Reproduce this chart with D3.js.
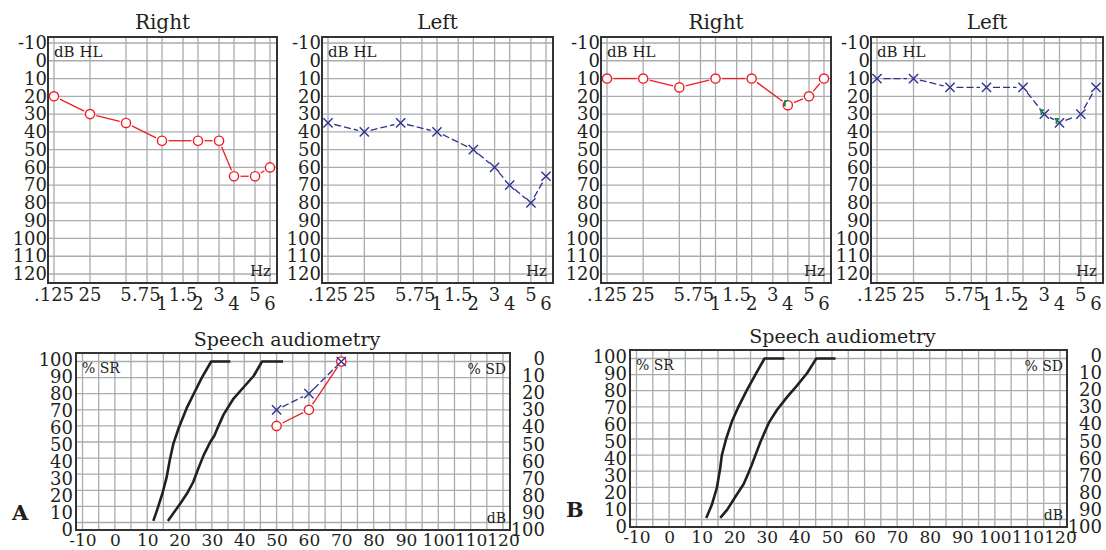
<!DOCTYPE html>
<html lang="en">
<head>
<meta charset="utf-8">
<title>Audiograms</title>
<script src="https://d3js.org/d3.v7.min.js"></script>
<style>
body { margin: 0; background: #fff; }
text { font-family: "DejaVu Serif", serif; fill: #231f20; }
.grid line { stroke: #a9abae; stroke-width: 1.3; }
.frame { fill: none; stroke: #333; stroke-width: 2; }
.ax text { font-size: 18px; }
.sax text { font-size: 18px; }
.xax text { font-size: 17px; }
</style>
</head>
<body>
<div id="chart"></div>
<script>
// audiogram axes
var freqs = [125, 250, 500, 750, 1000, 1500, 2000, 3000, 4000, 6000, 8000];
var freqLabels = [".125", "25", "5", ".75", "1", "1.5", "2", "3", "4", "5", "6"];
var freqLow = [false, false, false, false, true, false, true, false, true, false, true];
var dbTicks = [-10, 0, 10, 20, 30, 40, 50, 60, 70, 80, 90, 100, 110, 120];

// A: right ear (o) and left ear (x)
var freqsRA = [125, 250, 500, 1000, 2000, 3000, 4000, 6000, 8000];
var valuesRA = [20, 30, 35, 45, 45, 45, 65, 65, 60];
var freqsLA = [125, 250, 500, 1000, 2000, 3000, 4000, 6000, 8000];
var valuesLA = [35, 40, 35, 40, 50, 60, 70, 80, 65];
// B
var freqsRB = [125, 250, 500, 1000, 2000, 4000, 6000, 8000];
var valuesRB = [10, 10, 15, 10, 10, 25, 20, 10];
var freqsLB = [125, 250, 500, 1000, 2000, 3000, 4000, 6000, 8000];
var valuesLB = [10, 10, 15, 15, 15, 30, 35, 30, 15];
// green marks (masked)
var greenRB = [[4000, 25]];
var greenLB = [[3000, 30], [4000, 35]];

// speech audiometry
var speechTicksX = [-10, 0, 10, 20, 30, 40, 50, 60, 70, 80, 90, 100, 110, 120];
var speechGridX = [-10, -5, 0, 5, 10, 15, 20, 25, 30, 35, 40, 45, 50, 55, 60, 65, 70, 75, 80, 85, 90, 95, 100, 105, 110, 115, 120];
var pctTicks = [100, 90, 80, 70, 60, 50, 40, 30, 20, 10, 0];
var sdTicks = [0, 10, 20, 30, 40, 50, 60, 70, 80, 90, 100];

var curveA1Db = [11.9, 13.1, 14.7, 16.0, 17.0, 18.1, 19.8, 22.2, 24.4, 26.9, 29.8, 35.7];
var curveA1Pct = [1, 8, 18, 28, 39, 49, 59, 71, 80, 90, 100, 100];
var curveA2Db = [16.4, 18.2, 20.3, 22.3, 24.2, 25.7, 27.5, 29.5, 30.8, 31.6, 33.6, 36.7, 39.8, 42.9, 45.5, 52];
var curveA2Pct = [1, 6, 12, 18, 25, 33, 42, 50, 54, 58, 67, 77, 84, 91, 100, 100];
var curveB1Db = [11.4, 13.1, 14.7, 15.7, 16.2, 17.5, 19.3, 21.3, 23.8, 26.5, 29.3, 35.4];
var curveB1Pct = [1, 9, 20, 32, 40, 50, 61, 70, 80, 90, 100, 100];
var curveB2Db = [15.7, 17.8, 20.3, 22.9, 24.4, 25.4, 26.5, 28.0, 30.6, 33.1, 36.2, 39.2, 42.4, 45.2, 51.1];
var curveB2Pct = [1, 6, 14, 22, 29, 34, 40, 48, 60, 68, 76, 83, 91, 100, 100];

var speechDbA = [50, 60, 70];
var speechRightA = [60, 70, 100];
var speechLeftA = [70, 80, 100];

var RED = "#ed1c24", BLUE = "#2e3192", GREEN = "#0b8a3e";

var svg = d3.select("#chart").append("svg").attr("width", 1106).attr("height", 550);

var aTop = 37, aBottom = 283;

function markers(g, pts, kind) {
  if (kind === "o") {
    g.selectAll(null).data(pts).join("circle")
      .attr("cx", d => d[0]).attr("cy", d => d[1]).attr("r", 4.6)
      .attr("fill", "#fff").attr("stroke", RED).attr("stroke-width", 1.4);
  } else {
    g.selectAll(null).data(pts).join("path")
      .attr("d", d => "M" + (d[0] - 4.6) + "," + (d[1] - 4.6) + "L" + (d[0] + 4.6) + "," + (d[1] + 4.6) +
        "M" + (d[0] - 4.6) + "," + (d[1] + 4.6) + "L" + (d[0] + 4.6) + "," + (d[1] - 4.6))
      .attr("fill", "none").attr("stroke", BLUE).attr("stroke-width", 1.4);
  }
}

// segments between markers, trimmed so they stop short of the symbols
function links(g, pts, kind) {
  var segs = [];
  for (var i = 0; i < pts.length - 1; i++) {
    var a = pts[i], b = pts[i + 1];
    var dx = b[0] - a[0], dy = b[1] - a[1], len = Math.sqrt(dx * dx + dy * dy), gap = 6.5;
    if (len < 2 * gap) continue;
    segs.push([a[0] + dx / len * gap, a[1] + dy / len * gap, b[0] - dx / len * gap, b[1] - dy / len * gap]);
  }
  g.selectAll(null).data(segs).join("line")
    .attr("x1", d => d[0]).attr("y1", d => d[1]).attr("x2", d => d[2]).attr("y2", d => d[3])
    .attr("stroke", kind === "o" ? RED : BLUE).attr("stroke-width", 1.3)
    .attr("stroke-dasharray", kind === "o" ? null : "7,3");
}

function audiogram(p) {
  var g = svg.append("g");
  var x = d3.scaleLog().domain([125, 8000]).range([p.left + 6, p.right - 7]);
  var y = d3.scaleLinear().domain([-10, 120]).range([aTop + 6, aBottom - 9]);

  g.append("g").attr("class", "grid").selectAll("line").data(freqs).join("line")
    .attr("x1", d => x(d)).attr("x2", d => x(d)).attr("y1", aTop).attr("y2", aBottom);
  g.append("g").attr("class", "grid").selectAll("line").data(dbTicks).join("line")
    .attr("x1", p.left).attr("x2", p.right).attr("y1", d => y(d)).attr("y2", d => y(d));
  g.append("rect").attr("class", "frame")
    .attr("x", p.left).attr("y", aTop).attr("width", p.right - p.left).attr("height", aBottom - aTop);

  g.append("g").attr("class", "ax").attr("transform", "translate(" + p.left + ",0)")
    .call(d3.axisLeft(y).tickValues(dbTicks).tickSize(0).tickPadding(1).tickFormat(d => String(d)))
    .attr("font-family", null).attr("font-size", null)
    .call(a => a.select(".domain").remove());

  // ".75" sits tight against the "5" of 500, as in the printed form
  g.selectAll(null).data(freqs).join("text")
    .attr("x", (d, i) => freqLabels[i] === ".75" ? x(d) - 15 : x(d))
    .attr("y", (d, i) => aBottom + (freqLow[i] ? 27 : 18))
    .attr("text-anchor", (d, i) => freqLabels[i] === ".75" ? "start" : "middle")
    .style("font-size", "18px")
    .text((d, i) => freqLabels[i]);

  g.append("text").attr("x", (p.left + p.right) / 2).attr("y", 29)
    .attr("text-anchor", "middle").style("font-size", "20px").text(p.title);
  g.append("text").attr("x", p.left + 6).attr("y", 57).style("font-size", "15px").text("dB HL");
  g.append("text").attr("x", p.right - 6).attr("y", 276).attr("text-anchor", "end")
    .style("font-size", "15px").text("Hz");

  var pts = p.f.map((f, i) => [x(f), y(p.v[i])]);
  links(g, pts, p.kind);
  markers(g, pts, p.kind);

  if (p.green) {
    g.selectAll(null).data(p.green).join("path")
      .attr("d", d => {
        var cx = x(d[0]) - 3, cy = y(d[1]);
        return "M" + (cx + 2.5) + "," + (cy - 4) + "H" + cx + "V" + (cy + 1);
      })
      .attr("fill", "none").attr("stroke", GREEN).attr("stroke-width", 1.8);
  }
}

audiogram({title: "Right", left: 48, right: 277, f: freqsRA, v: valuesRA, kind: "o"});
audiogram({title: "Left", left: 322, right: 553, f: freqsLA, v: valuesLA, kind: "x"});
audiogram({title: "Right", left: 601, right: 831, f: freqsRB, v: valuesRB, kind: "o", green: greenRB});
audiogram({title: "Left", left: 871, right: 1103, f: freqsLB, v: valuesLB, kind: "x", green: greenLB});

function speech(p) {
  var g = svg.append("g");
  var x = d3.scaleLinear().domain([-10, 120]).range([p.L + 6.5, p.R - 7]);
  var y = d3.scaleLinear().domain([0, 100]).range([p.B - 7.5, p.T + 8.5]);
  var yLab = d3.scaleLinear().domain([100, 0]).range([p.T + 6.5, p.B]);

  g.append("g").attr("class", "grid").selectAll("line").data(speechGridX).join("line")
    .attr("x1", d => x(d)).attr("x2", d => x(d)).attr("y1", p.T).attr("y2", p.B);
  g.append("g").attr("class", "grid").selectAll("line").data(sdTicks).join("line")
    .attr("x1", p.L).attr("x2", p.R).attr("y1", d => y(d)).attr("y2", d => y(d));
  g.append("rect").attr("class", "frame")
    .attr("x", p.L).attr("y", p.T).attr("width", p.R - p.L).attr("height", p.B - p.T);

  g.append("g").attr("class", "xax").attr("transform", "translate(0," + p.B + ")")
    .call(d3.axisBottom(x).tickValues(speechTicksX).tickSize(0).tickPadding(4).tickFormat(d => String(d)))
    .attr("font-family", null).attr("font-size", null)
    .call(a => a.select(".domain").remove());

  g.append("g").attr("class", "sax").attr("transform", "translate(" + p.L + ",0)")
    .call(d3.axisLeft(yLab).tickValues(pctTicks).tickSize(0).tickPadding(3).tickFormat(d => String(d)))
    .attr("font-family", null).attr("font-size", null)
    .call(a => a.select(".domain").remove());

  g.selectAll(null).data(sdTicks).join("text")
    .attr("x", p.R + 35).attr("y", (d, i) => yLab(pctTicks[i])).attr("dy", "0.32em")
    .attr("text-anchor", "end").style("font-size", "18px").text(d => d);

  g.append("text").attr("x", (p.L + p.R) / 2 - 6).attr("y", p.T - 7)
    .attr("text-anchor", "middle").style("font-size", "19px").text("Speech audiometry");
  g.append("text").attr("x", p.L + 6).attr("y", p.T + 20).style("font-size", "14px").text("% SR");
  g.append("text").attr("x", p.R - 4).attr("y", p.T + 21).attr("text-anchor", "end")
    .style("font-size", "14px").text("% SD");
  g.append("text").attr("x", p.R - 4).attr("y", p.B - 7).attr("text-anchor", "end")
    .style("font-size", "14px").text("dB");
  g.append("text").attr("x", p.L - 64).attr("y", p.B - 10)
    .style("font-size", "21px").style("font-weight", "bold").text(p.tag);

  var line = d3.line().x(d => x(d[0])).y(d => y(d[1]));
  p.curves.forEach(c => {
    g.append("path").attr("d", line(c[0].map((v, i) => [v, c[1][i]])))
      .attr("fill", "none").attr("stroke", "#231f20").attr("stroke-width", 2.6)
      .attr("stroke-linejoin", "round");
  });

  if (p.right) {
    var rp = p.db.map((d, i) => [x(d), y(p.right[i])]);
    var lp = p.db.map((d, i) => [x(d), y(p.left[i])]);
    links(g, rp, "o");
    links(g, lp, "x");
    markers(g, rp, "o");
    markers(g, lp, "x");
  }
}

speech({tag: "A", L: 76, R: 510, T: 353, B: 530,
  curves: [[curveA1Db, curveA1Pct], [curveA2Db, curveA2Pct]],
  db: speechDbA, right: speechRightA, left: speechLeftA});
speech({tag: "B", L: 630, R: 1067, T: 350, B: 527,
  curves: [[curveB1Db, curveB1Pct], [curveB2Db, curveB2Pct]]});
</script>
</body>
</html>
